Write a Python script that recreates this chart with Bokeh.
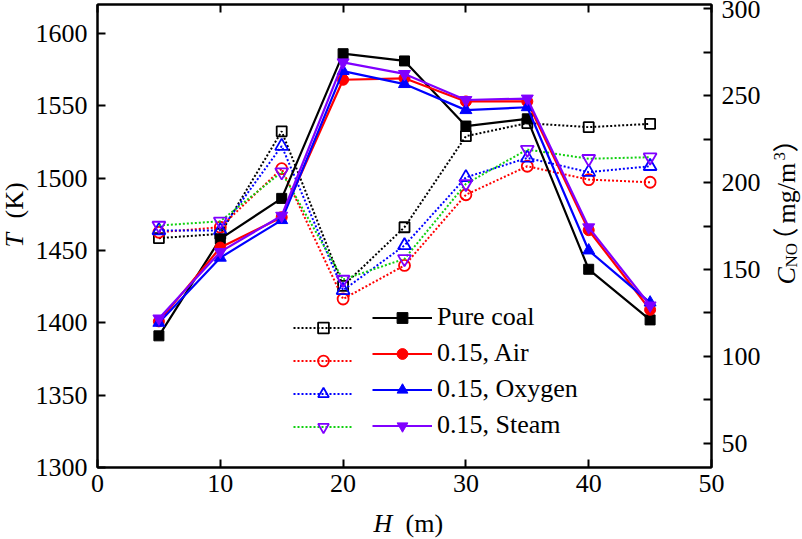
import math
from bokeh.plotting import figure
from bokeh.models import Range1d, LinearAxis, FixedTicker, Legend, LegendItem, GridBox
from bokeh.core.properties import value
from bokeh.embed import file_html
from bokeh.resources import INLINE

# ---------------- data ----------------
H = [5, 10, 15, 20, 25, 30, 35, 40, 45]

# temperature T (K), left axis, solid lines / filled markers
T_coal = [1391, 1458, 1486, 1586, 1581, 1536, 1541, 1437, 1402]
T_air = [1401, 1452, 1473, 1568, 1569, 1553, 1553, 1464, 1409]
T_oxy = [1400, 1445, 1471, 1574, 1565, 1547, 1549, 1450, 1414]
T_steam = [1403, 1449, 1474, 1580, 1572, 1554, 1555, 1466, 1412]

# NO concentration (mg/m3), right axis, dotted lines / open markers
C_coal = [168, 170.5, 229.5, 140.5, 174.3, 226.7, 234.2, 231.9, 233.8]
C_air = [171.4, 174.3, 208, 133, 152.3, 193, 209.4, 201.7, 200.2]
C_oxy = [172.4, 172.4, 221, 138, 163.8, 203, 214.2, 206, 209.4]
C_steam = [175.3, 177.7, 206, 144.2, 156.1, 199.3, 219, 213.7, 214.6]

labels = ["Pure coal", "0.15, Air", "0.15, Oxygen", "0.15, Steam"]

x_ticks = [0, 10, 20, 30, 40, 50]
T_ticks = [1300, 1350, 1400, 1450, 1500, 1550, 1600]
C_ticks = [50, 100, 150, 200, 250, 300]
C_minor = [75, 125, 175, 225, 275]

FONT = "Liberation Serif"
FS = "26px"
WIDTH, HEIGHT = 802, 539

p = figure(width=WIDTH, height=HEIGHT, output_backend="svg", toolbar_location=None,
           x_range=Range1d(0, 50), y_range=Range1d(1300, 1620.0),
           min_border_left=97, min_border_right=91, min_border_top=4,
           min_border_bottom=72, background_fill_color="white",
           border_fill_color="white")
p.extra_y_ranges = {"c": Range1d(36, 302.5)}
p.xgrid.visible = False
p.ygrid.visible = False
p.outline_line_color = "black"
p.outline_line_width = 2
p.outline_line_alpha = 1


def style_axis(ax, standoff):
    ax.axis_line_color = "black"
    ax.axis_line_width = 2
    ax.major_tick_in = 8
    ax.major_tick_out = 0
    ax.major_tick_line_width = 2
    ax.major_tick_line_color = "black"
    ax.minor_tick_in = 0
    ax.minor_tick_out = 0
    ax.major_label_text_font = FONT
    ax.major_label_text_font_size = FS
    ax.major_label_text_color = "black"
    ax.major_label_standoff = standoff


p.xaxis.ticker = FixedTicker(ticks=x_ticks)
p.yaxis.ticker = FixedTicker(ticks=T_ticks)
style_axis(p.xaxis[0], 7)
style_axis(p.yaxis[0], 10)

ax_r = LinearAxis(y_range_name="c", ticker=FixedTicker(ticks=C_ticks, minor_ticks=C_minor))
style_axis(ax_r, 10)
ax_r.minor_tick_in = 8
ax_r.minor_tick_line_width = 2
ax_r.minor_tick_line_color = "black"
p.add_layout(ax_r, "right")

ax_t = LinearAxis(ticker=FixedTicker(ticks=x_ticks))
style_axis(ax_t, 0)
ax_t.major_label_text_font_size = "0px"
ax_t.major_label_text_alpha = 0
p.add_layout(ax_t, "above")

# ---------------- series ----------------
series = [
    (T_coal, C_coal, "black", "black", "square", 10, 10),
    (T_air, C_air, "#FF0000", "#FF0000", "circle", 11, 11),
    (T_oxy, C_oxy, "#0000FF", "#0000FF", "triangle", 12, 13),
    (T_steam, C_steam, "#8000FF", "#10D010", "inverted_triangle", 12, 13),
]

dot_items = []
for (T, C, col, dcol, mk, sz_f, sz_o) in series:
    dl = p.line(H, C, y_range_name="c", line_color=dcol, line_width=2, line_dash="2 2")
    ds = p.scatter(H, C, y_range_name="c", marker=mk, size=sz_o, fill_color=None,
                   line_color=col, line_width=1.8)
    dot_items.append(LegendItem(label=" ", renderers=[dl, ds]))

solid_items = []
for (T, C, col, dcol, mk, sz_f, sz_o), lab in zip(series, labels):
    sl = p.line(H, T, line_color=col, line_width=2.2)
    ss = p.scatter(H, T, marker=mk, size=sz_f, fill_color=col, line_color=col)
    solid_items.append(LegendItem(label=lab, renderers=[sl, ss]))


def make_legend(items, x):
    return Legend(items=items, location=(x, 27), orientation="vertical",
                  glyph_width=60, glyph_height=27, label_height=27, spacing=6,
                  padding=0, margin=0, label_standoff=5,
                  background_fill_alpha=0, border_line_alpha=0,
                  label_text_font=FONT, label_text_font_size=FS,
                  label_text_color="black")


p.add_layout(make_legend(dot_items, 196), "center")
p.add_layout(make_legend(solid_items, 275), "center")

# ---------------- axis titles (transparent overlay, pixel coordinates) ----------------
q = figure(width=WIDTH, height=HEIGHT, output_backend="svg", toolbar_location=None,
           x_range=Range1d(0, WIDTH), y_range=Range1d(HEIGHT, 0),
           x_axis_location=None, y_axis_location=None,
           min_border=0, min_border_left=0, min_border_right=0,
           min_border_top=0, min_border_bottom=0,
           background_fill_alpha=0, border_fill_alpha=0, outline_line_color=None)
q.frame_align = False
q.xgrid.visible = False
q.ygrid.visible = False

R = math.pi / 2


def txt(s, x, y, size=FS, style="normal", font=FONT, angle=0.0, baseline="middle"):
    q.text(x=[x], y=[y], text=[s], angle=angle, text_font=value(font),
           text_font_size=value(size), text_font_style=style, text_color="black",
           text_align="left", text_baseline=baseline)


# left: T (K)
txt("T", 14, 247, style="italic", angle=R)
txt("(K)", 14, 218, angle=R)
# bottom: H (m)
txt("H", 373, 523, style="italic")
txt("(m)", 405, 523)
# right: C_NO（ mg/m3）
txt("C", 786, 284, style="italic", angle=R)
txt("NO", 791, 267, size="17px", angle=R)
txt("（", 783, 253, font="Noto Sans CJK SC", angle=R)
txt("mg/m", 786, 223, angle=R)
txt("3", 779, 160, size="17px", angle=R)
txt("）", 783, 152, font="Noto Sans CJK SC", angle=R)

layout = GridBox(children=[(p, 0, 0), (q, 0, 0)])
open("out.html", "w").write(file_html(layout, INLINE))
